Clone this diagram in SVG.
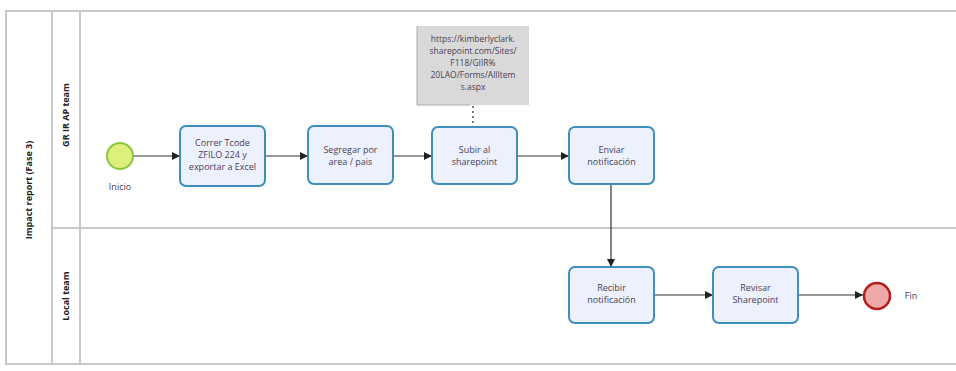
<svg xmlns="http://www.w3.org/2000/svg" width="956" height="371" viewBox="0 0 956 371">
<style>
.lane{fill:none;stroke:#c8c8c8;stroke-width:2}
.task{fill:#edf0fd;stroke:#3d8fbd;stroke-width:2}
.t{font-family:"Open Sans","Liberation Sans",sans-serif;font-size:9px;fill:#4a3f55;text-anchor:middle}
.lbl{font-family:"Open Sans","Liberation Sans",sans-serif;font-size:9px;font-weight:bold;fill:#222;text-anchor:middle}
.c{fill:none;stroke:#333;stroke-width:1.2}
</style>
<defs>
<marker id="ah" viewBox="0 0 10 10" refX="10" refY="5" markerWidth="8" markerHeight="8" markerUnits="userSpaceOnUse" orient="auto">
<path d="M0,0 L10,5 L0,10 z" fill="#222"/>
</marker>
</defs>
<g id="pool">
<path class="lane" d="M956,11 H6 V364 H956"/>
<line class="lane" x1="52" y1="11" x2="52" y2="364"/>
<line class="lane" x1="80" y1="11" x2="80" y2="364"/>
<line class="lane" x1="52" y1="228" x2="956" y2="228"/>
<text class="lbl" transform="translate(32,190) rotate(-90)">Impact report (Fase 3)</text>
<text class="lbl" transform="translate(69,115) rotate(-90)">GR IR AP team</text>
<text class="lbl" transform="translate(69,296) rotate(-90)">Local team</text>
</g>
<g id="connectors">
<line class="c" x1="133" y1="156" x2="180" y2="156" marker-end="url(#ah)"/>
<line class="c" x1="265" y1="156" x2="308" y2="156" marker-end="url(#ah)"/>
<line class="c" x1="393" y1="156" x2="432" y2="156" marker-end="url(#ah)"/>
<line class="c" x1="517" y1="156" x2="569" y2="156" marker-end="url(#ah)"/>
<line class="c" x1="611" y1="184" x2="611" y2="267" marker-end="url(#ah)"/>
<line class="c" x1="654" y1="295" x2="713" y2="295" marker-end="url(#ah)"/>
<line class="c" x1="798" y1="295" x2="863" y2="295" marker-end="url(#ah)"/>
<line x1="473" y1="106" x2="473" y2="127" stroke="#555" stroke-width="1.5" stroke-dasharray="2,3"/>
</g>
<g id="start">
<circle cx="120" cy="156" r="13" fill="#dcf07c" stroke="#8cc63f" stroke-width="2"/>
<text class="t" x="120" y="190">Inicio</text>
</g>
<g id="task1">
<rect class="task" x="180" y="126" width="85" height="60" rx="6"/>
<text class="t" x="222.5" y="146">Correr Tcode</text>
<text class="t" x="222.5" y="158">ZFILO 224 y</text>
<text class="t" x="222.5" y="170">exportar a Excel</text>
</g>
<g id="task2">
<rect class="task" x="308" y="126" width="85" height="58" rx="6"/>
<text class="t" x="350.5" y="153">Segregar por</text>
<text class="t" x="350.5" y="165">area / pais</text>
</g>
<g id="annotation">
<rect x="417" y="26" width="112" height="79" fill="#d9d9d9"/>
<path d="M417,26 V105 H470" fill="none" stroke="#aaa" stroke-width="1"/>
<text class="t" x="473" y="42" style="font-size:8.5px">https://kimberlyclark.</text>
<text class="t" x="473" y="54" style="font-size:8.5px">sharepoint.com/Sites/</text>
<text class="t" x="473" y="66" style="font-size:8.5px">F118/GIIR%</text>
<text class="t" x="473" y="78" style="font-size:8.5px">20LAO/Forms/AllItem</text>
<text class="t" x="473" y="90" style="font-size:8.5px">s.aspx</text>
</g>
<g id="task3">
<rect class="task" x="432" y="127" width="85" height="57" rx="6"/>
<text class="t" x="474.5" y="153">Subir al</text>
<text class="t" x="474.5" y="165">sharepoint</text>
</g>
<g id="task4">
<rect class="task" x="569" y="127" width="85" height="57" rx="6"/>
<text class="t" x="611.5" y="153">Enviar</text>
<text class="t" x="611.5" y="165">notificación</text>
</g>
<g id="task5">
<rect class="task" x="569" y="267" width="85" height="56" rx="6"/>
<text class="t" x="611.5" y="291">Recibir</text>
<text class="t" x="611.5" y="303">notificación</text>
</g>
<g id="task6">
<rect class="task" x="713" y="267" width="85" height="56" rx="6"/>
<text class="t" x="755.5" y="291">Revisar</text>
<text class="t" x="755.5" y="303">Sharepoint</text>
</g>
<g id="end">
<circle cx="877" cy="296" r="13" fill="#f0a8a8" stroke="#b71c1c" stroke-width="2.5"/>
<text class="t" x="911" y="299">Fin</text>
</g>
</svg>
